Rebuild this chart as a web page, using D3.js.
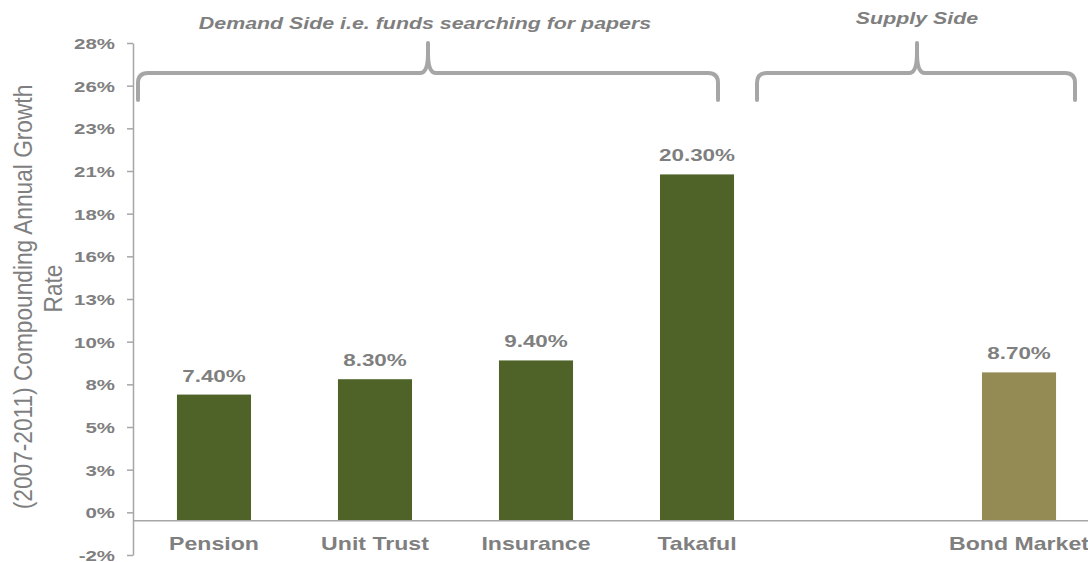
<!DOCTYPE html>
<html lang="en">
  <head>
    <meta charset="UTF-8" />
    <title>CAGR demand vs supply</title>
    <style>
      body {
        margin: 0;
        background: #fff;
        font-family: Arial, "Liberation Sans", sans-serif;
      }
      svg text {
        font-family: Arial, "Liberation Sans", sans-serif;
        fill: #7f7f7f;
      }
    </style>
  </head>
  <body>
    <svg id="chart" width="1088" height="562"></svg>
    <script src="https://d3js.org/d3.v7.min.js"></script>
    <script>
      // data
      const categories = ["Pension", "Unit Trust", "Insurance", "Takaful", "", "Bond Market"];
      const values = [7.4, 8.3, 9.4, 20.3, null, 8.7];
      const valueLabels = ["7.40%", "8.30%", "9.40%", "20.30%", "", "8.70%"];
      const sides = ["demand", "demand", "demand", "demand", "", "supply"];
      const tickValues = [-2, 0.5, 3, 5.5, 8, 10.5, 13, 15.5, 18, 20.5, 23, 25.5, 28];
      const tickLabels = ["-2%", "0%", "3%", "5%", "8%", "10%", "13%", "16%", "18%", "21%", "23%", "26%", "28%"];
      const groupTitles = ["Demand Side i.e. funds searching for papers", "Supply Side"];

      const colors = { demand: "#4f6228", supply: "#948a54" };
      const SX = 1.32; // the source picture is stretched sideways

      const svg = d3.select("#chart");

      const x = d3.scaleBand()
        .domain(categories.map((c, i) => i))
        .range([133, 1100])
        .paddingInner(0.54)
        .paddingOuter(0.273);

      const y = d3.scaleLinear().domain([-2, 28]).range([555, 43]);

      function stretch(sel, tx, ty) {
        return sel.attr("transform", `translate(${tx},${ty}) scale(${SX},1)`);
      }

      // y axis
      const yAxis = svg.append("g")
        .attr("transform", "translate(133,0)")
        .call(d3.axisLeft(y)
          .tickValues(tickValues)
          .tickFormat((d, i) => tickLabels[i])
          .tickSize(6)
          .tickSizeOuter(0));
      yAxis.select(".domain").attr("stroke", "#a6a6a6").attr("stroke-width", 1.5);
      yAxis.selectAll(".tick line").attr("stroke", "#a6a6a6").attr("stroke-width", 1.5);
      yAxis.selectAll(".tick text")
        .attr("x", 0)
        .attr("dy", "0.35em")
        .attr("transform", `translate(-18,0) scale(${SX},1)`)
        .style("font-size", "15.5px")
        .style("font-weight", "bold")
        .style("fill", "#7f7f7f");

      // bars
      const data = categories.map((c, i) => ({ i, c, v: values[i], label: valueLabels[i], side: sides[i] }))
        .filter(d => d.v !== null);

      svg.append("g")
        .selectAll("rect")
        .data(data)
        .enter().append("rect")
        .attr("x", d => x(d.i))
        .attr("width", x.bandwidth())
        .attr("y", d => y(d.v))
        .attr("height", d => y(0) - y(d.v))
        .attr("fill", d => colors[d.side]);

      // baseline
      svg.append("line")
        .attr("x1", 133).attr("x2", 1088)
        .attr("y1", y(0)).attr("y2", y(0))
        .attr("stroke", "#a6a6a6")
        .attr("stroke-width", 1.5);

      // value labels
      svg.append("g")
        .selectAll("text")
        .data(data)
        .enter().append("text")
        .attr("text-anchor", "middle")
        .style("font-size", "17px")
        .style("font-weight", "bold")
        .each(function (d) {
          stretch(d3.select(this), x(d.i) + x.bandwidth() / 2, y(d.v) - 13);
        })
        .text(d => d.label);

      // category labels
      svg.append("g")
        .selectAll("text")
        .data(categories.map((c, i) => ({ c, i })).filter(d => d.c))
        .enter().append("text")
        .attr("text-anchor", "middle")
        .style("font-size", "17.5px")
        .style("font-weight", "bold")
        .each(function (d) {
          stretch(d3.select(this), x(d.i) + x.bandwidth() / 2, 550);
        })
        .text(d => d.c);

      // y title (less stretched than the rest)
      const yTitle = svg.append("g")
        .attr("transform", "translate(0,297) scale(1.17,1)");
      yTitle.append("text")
        .attr("transform", "translate(27.4,0) rotate(-90)")
        .attr("text-anchor", "middle")
        .style("font-size", "22.7px")
        .text("(2007-2011) Compounding Annual Growth");
      yTitle.append("text")
        .attr("transform", "translate(53,-8.5) rotate(-90)")
        .attr("text-anchor", "middle")
        .style("font-size", "22.7px")
        .text("Rate");

      // curly brackets over the two groups
      const brackets = [
        { x0: 138, x1: 718, peak: 428, title: groupTitles[0], tx: 425, ty: 29 },
        { x0: 757, x1: 1075, peak: 917, title: groupTitles[1], tx: 917, ty: 24 }
      ];
      const yTop = 43, yBar = 73, yEnd = 100, r = 10;

      function bracePath(b) {
        const p = d3.path();
        p.moveTo(b.x0, yEnd);
        p.lineTo(b.x0, yBar + r);
        p.quadraticCurveTo(b.x0, yBar, b.x0 + r, yBar);
        p.lineTo(b.peak - 8, yBar);
        p.quadraticCurveTo(b.peak, yBar, b.peak, yTop + 10);
        p.lineTo(b.peak, yTop);
        p.moveTo(b.peak, yTop + 10);
        p.quadraticCurveTo(b.peak, yBar, b.peak + 8, yBar);
        p.lineTo(b.x1 - r, yBar);
        p.quadraticCurveTo(b.x1, yBar, b.x1, yBar + r);
        p.lineTo(b.x1, yEnd);
        return p.toString();
      }

      svg.append("g")
        .selectAll("path")
        .data(brackets)
        .enter().append("path")
        .attr("d", bracePath)
        .attr("fill", "none")
        .attr("stroke", "#a6a6a6")
        .attr("stroke-width", 4)
        .attr("stroke-linecap", "round")
        .attr("stroke-linejoin", "round");

      svg.append("g")
        .selectAll("text")
        .data(brackets)
        .enter().append("text")
        .attr("text-anchor", "middle")
        .style("font-size", "16.2px")
        .style("font-weight", "bold")
        .style("font-style", "italic")
        .each(function (d) {
          stretch(d3.select(this), d.tx, d.ty);
        })
        .text(d => d.title);
    </script>
  </body>
</html>
